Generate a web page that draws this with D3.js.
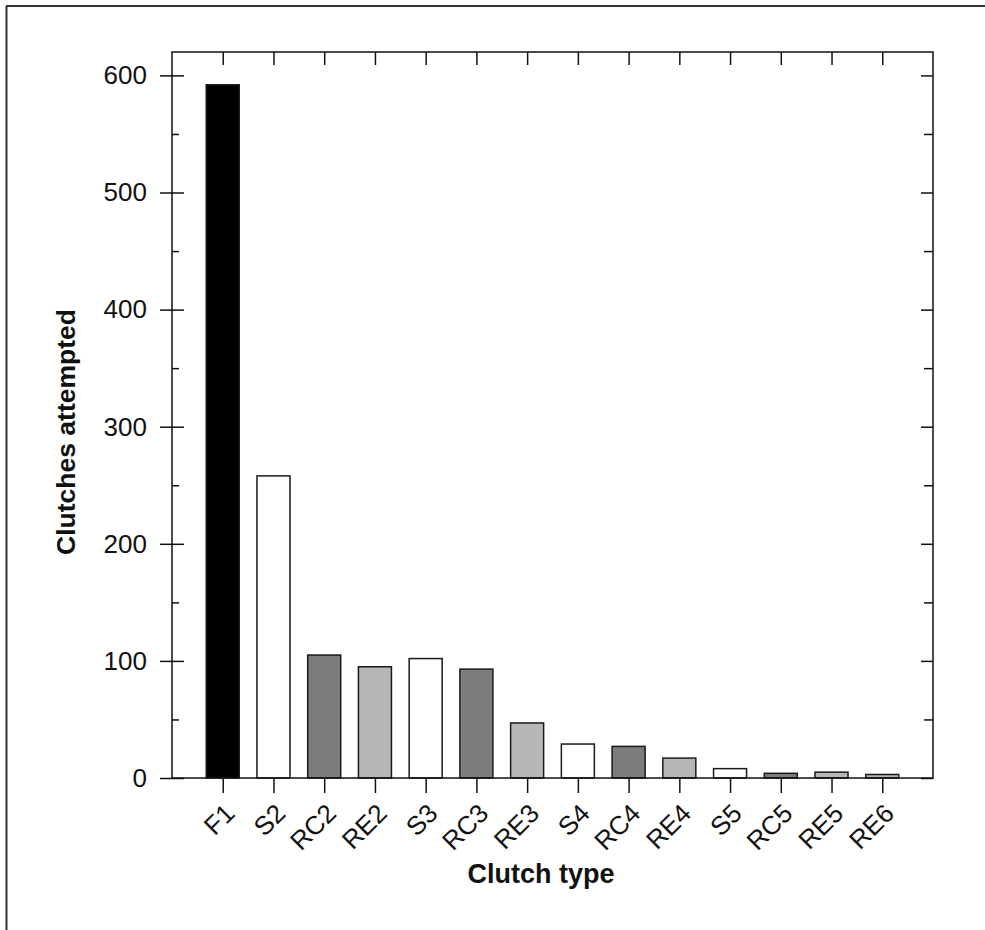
<!DOCTYPE html>
<html>
<head>
<meta charset="utf-8">
<script src="https://cdn.jsdelivr.net/npm/d3@7"></script>
<style>
  html, body { margin: 0; padding: 0; background: #fff; }
  svg { display: block; }
  text { font-family: "Liberation Sans", Arial, Helvetica, sans-serif; fill: #111; }
</style>
</head>
<body>
<svg id="chart" width="985" height="930"></svg>
<script>
// Clutch types in plotting order and the number of clutches attempted for each
const categories = ["F1", "S2", "RC2", "RE2", "S3", "RC3", "RE3", "S4", "RC4", "RE4", "S5", "RC5", "RE5", "RE6"];
const clutches   = [592, 258, 105, 95, 102, 93, 47, 29, 27, 17, 8, 4, 5, 3];
const yMajorTicks = [0, 100, 200, 300, 400, 500, 600];
const yMinorTicks = [50, 150, 250, 350, 450, 550];

// Clutch families (first letters of the label) get their own fill
const families = ["F", "S", "RC", "RE"];
const familyFill = d3.scaleOrdinal().domain(families).range(["#000000", "#ffffff", "#7c7c7c", "#b7b7b7"]);
const familyOf = c => c.replace(/[0-9]+$/, "");

const data = categories.map((c, i) => ({ cat: c, value: clutches[i] }));

const svg = d3.select("#chart");
const plotL = 172, plotR = 933, plotT = 52, plotB = 778;

// Outer frame (top and left edges)
svg.append("line").attr("x1", 6).attr("y1", 6).attr("x2", 985).attr("y2", 6)
  .attr("stroke", "#333").attr("stroke-width", 2);
svg.append("line").attr("x1", 6.5).attr("y1", 6).attr("x2", 6.5).attr("y2", 930)
  .attr("stroke", "#333").attr("stroke-width", 2);

const x = d3.scalePoint().domain(categories).range([plotL, plotR]).padding(1);
const y = d3.scaleLinear().domain([0, 620]).range([plotB, plotT]);
const barW = 33;

// Bars
svg.append("g").selectAll("rect").data(data).join("rect")
  .attr("x", d => x(d.cat) - barW / 2)
  .attr("y", d => y(d.value))
  .attr("width", barW)
  .attr("height", d => y(0) - y(d.value))
  .attr("fill", d => familyFill(familyOf(d.cat)))
  .attr("stroke", "#1a1a1a")
  .attr("stroke-width", 1.5);

function styleAxis(g) {
  g.selectAll(".domain").remove();
  g.selectAll(".tick line").attr("stroke", "#111").attr("stroke-width", 1.5);
}

// Left axis: major ticks cross the axis line, minor ticks point inward
svg.append("g").attr("transform", `translate(${plotL},0)`)
  .call(d3.axisLeft(y).tickValues(yMajorTicks).tickSize(12).tickPadding(13))
  .call(styleAxis)
  .call(g => g.selectAll("text").attr("font-size", 26).attr("fill", "#111"));
svg.append("g").attr("transform", `translate(${plotL},0)`)
  .call(d3.axisRight(y).tickValues(yMajorTicks).tickSize(12).tickFormat(""))
  .call(styleAxis);
svg.append("g").attr("transform", `translate(${plotL},0)`)
  .call(d3.axisRight(y).tickValues(yMinorTicks).tickSize(7).tickFormat(""))
  .call(styleAxis);

// Right axis: inward ticks only
svg.append("g").attr("transform", `translate(${plotR},0)`)
  .call(d3.axisLeft(y).tickValues(yMajorTicks).tickSize(12).tickFormat(""))
  .call(styleAxis);
svg.append("g").attr("transform", `translate(${plotR},0)`)
  .call(d3.axisLeft(y).tickValues(yMinorTicks).tickSize(9).tickFormat(""))
  .call(styleAxis);

// Top axis: inward ticks at each category
svg.append("g").attr("transform", `translate(0,${plotT})`)
  .call(d3.axisBottom(x).tickSize(13).tickFormat(""))
  .call(styleAxis);

// Bottom axis: outward ticks with rotated category labels
svg.append("g").attr("transform", `translate(0,${plotB})`)
  .call(d3.axisBottom(x).tickSize(15))
  .call(styleAxis)
  .call(g => g.selectAll("text")
    .attr("font-size", 26)
    .attr("fill", "#111")
    .attr("text-anchor", "end")
    .attr("dy", null)
    .attr("y", null)
    .attr("transform", "translate(13,37) rotate(-45)"));

// Plot frame
svg.append("rect")
  .attr("x", plotL).attr("y", plotT)
  .attr("width", plotR - plotL).attr("height", plotB - plotT)
  .attr("fill", "none").attr("stroke", "#111").attr("stroke-width", 1.5);

// Axis titles
svg.append("text")
  .attr("x", 541).attr("y", 883)
  .attr("text-anchor", "middle")
  .attr("font-size", 27).attr("font-weight", "bold")
  .text("Clutch type");

svg.append("text")
  .attr("transform", `translate(75,${(plotT + plotB) / 2 + 17}) rotate(-90)`)
  .attr("text-anchor", "middle")
  .attr("font-size", 26.5).attr("font-weight", "bold")
  .text("Clutches attempted");
</script>
</body>
</html>
